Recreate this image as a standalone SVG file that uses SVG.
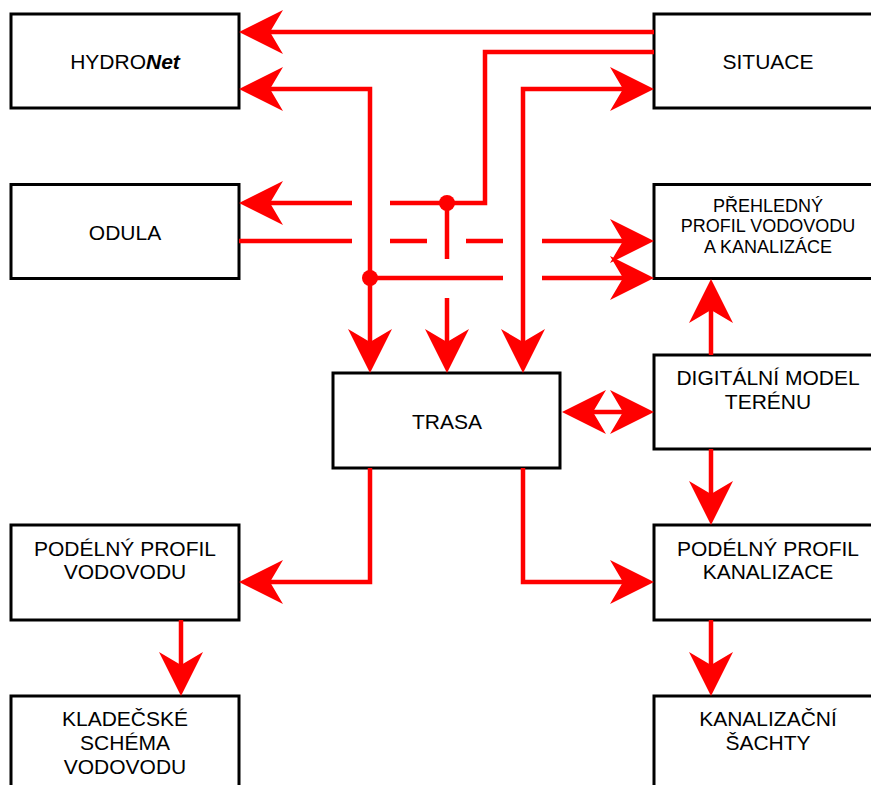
<svg xmlns="http://www.w3.org/2000/svg" xmlns:xlink="http://www.w3.org/1999/xlink" width="871" height="785" viewBox="0 0 871 785">
<style>
.box{fill:#fff;stroke:#000;stroke-width:3}
.t{font-family:"Liberation Sans",Arial,sans-serif;font-size:21px;fill:#000;text-anchor:middle}
.ts{font-size:18px}
.ln{fill:none;stroke:#f00;stroke-width:4.5;stroke-linejoin:miter;stroke-linecap:butt}
.ah{fill:#f00}
.dot{fill:#f00}
</style>
<defs>
<path id="ah" d="M0,0 L-44,-22 L-31,0 L-44,22 Z"/>
</defs>
<rect width="871" height="785" fill="#fff"/>
<g id="hydronet"><rect class="box" x="11" y="14" width="228" height="94"/><text class="t" x="125" y="69">HYDRO<tspan font-weight="bold" font-style="italic">Net</tspan></text></g>
<g id="odula"><rect class="box" x="11" y="184.5" width="228" height="94"/><text class="t" x="125" y="240">ODULA</text></g>
<g id="situace"><rect class="box" x="654" y="14" width="228" height="94"/><text class="t" x="768" y="69">SITUACE</text></g>
<g id="prehledny"><rect class="box" x="654" y="184.5" width="228" height="94"/><text class="t ts" x="768" y="212">PŘEHLEDNÝ</text><text class="t ts" x="768" y="232">PROFIL VODOVODU</text><text class="t ts" x="768" y="253">A KANALIZÁCE</text></g>
<g id="dmt"><rect class="box" x="654" y="355" width="228" height="94"/><text class="t" x="768" y="385">DIGITÁLNÍ MODEL</text><text class="t" x="768" y="409">TERÉNU</text></g>
<g id="trasa"><rect class="box" x="333" y="373" width="227" height="95"/><text class="t" x="447" y="429">TRASA</text></g>
<g id="ppv"><rect class="box" x="11" y="525" width="228" height="95"/><text class="t" x="125" y="556">PODÉLNÝ PROFIL</text><text class="t" x="125" y="579">VODOVODU</text></g>
<g id="ppk"><rect class="box" x="654" y="525" width="228" height="95"/><text class="t" x="768" y="556">PODÉLNÝ PROFIL</text><text class="t" x="768" y="579">KANALIZACE</text></g>
<g id="kladecske"><rect class="box" x="11" y="696" width="228" height="95"/><text class="t" x="125" y="726">KLADEČSKÉ</text><text class="t" x="125" y="750">SCHÉMA</text><text class="t" x="125" y="774">VODOVODU</text></g>
<g id="sachty"><rect class="box" x="654" y="696" width="228" height="95"/><text class="t" x="768" y="726">KANALIZAČNÍ</text><text class="t" x="768" y="750">ŠACHTY</text></g>
<g id="connectors">
<path class="ln" d="M654,32 H270"/>
<use href="#ah" class="ah" transform="translate(239,32) rotate(180)"/>
<path class="ln" d="M654,52 H485 V203 H390 M352,203 H270 M447,203 V259 M447,298 V342"/>
<use href="#ah" class="ah" transform="translate(239,203) rotate(180)"/>
<use href="#ah" class="ah" transform="translate(447,373) rotate(90)"/>
<circle class="dot" cx="447" cy="203" r="8"/>
<path class="ln" d="M270,89 H370 V342 M370,278 H503 M542,278 H623"/>
<use href="#ah" class="ah" transform="translate(239,89) rotate(180)"/>
<use href="#ah" class="ah" transform="translate(370,373) rotate(90)"/>
<use href="#ah" class="ah" transform="translate(654,278)"/>
<circle class="dot" cx="370" cy="278" r="8"/>
<path class="ln" d="M239,241 H352 M390,241 H427 M466,241 H503 M542,241 H623"/>
<use href="#ah" class="ah" transform="translate(654,241)"/>
<path class="ln" d="M623,89 H523 V342"/>
<use href="#ah" class="ah" transform="translate(654,89)"/>
<use href="#ah" class="ah" transform="translate(523,373) rotate(90)"/>
<path class="ln" d="M593,412 H623"/>
<use href="#ah" class="ah" transform="translate(562,412) rotate(180)"/>
<use href="#ah" class="ah" transform="translate(654,412)"/>
<path class="ln" d="M711,355 V310"/>
<use href="#ah" class="ah" transform="translate(711,279) rotate(-90)"/>
<path class="ln" d="M711,449 V494"/>
<use href="#ah" class="ah" transform="translate(711,525) rotate(90)"/>
<path class="ln" d="M370,468 V582 H270"/>
<use href="#ah" class="ah" transform="translate(239,582) rotate(180)"/>
<path class="ln" d="M523,468 V582 H623"/>
<use href="#ah" class="ah" transform="translate(654,582)"/>
<path class="ln" d="M181,620 V665"/>
<use href="#ah" class="ah" transform="translate(181,696) rotate(90)"/>
<path class="ln" d="M711,620 V665"/>
<use href="#ah" class="ah" transform="translate(711,696) rotate(90)"/>
</g>
</svg>
